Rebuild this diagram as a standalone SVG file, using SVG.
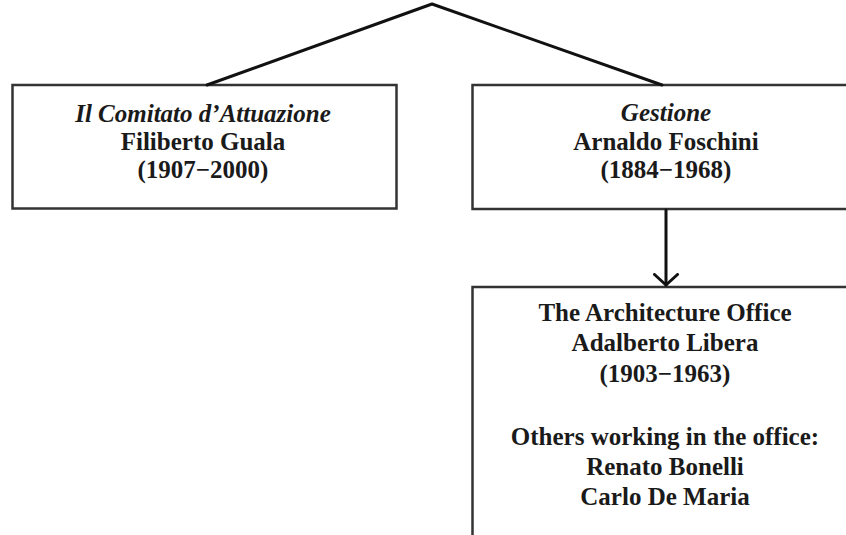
<svg xmlns="http://www.w3.org/2000/svg" width="846" height="535" viewBox="0 0 846 535">
  <style>
    .box { fill: #ffffff; stroke: #333333; stroke-width: 2.5; }
    .conn { fill: none; stroke: #111111; stroke-width: 3; stroke-linecap: round; stroke-linejoin: round; }
    text { font-family: "Liberation Serif", "Times New Roman", serif; font-size: 25px; font-weight: bold; fill: #1a1a1a; text-anchor: middle; }
    .it { font-style: italic; }
  </style>
  <defs>
    <marker id="vhead" viewBox="0 0 14 26" refX="12" refY="13" markerWidth="14" markerHeight="26" markerUnits="userSpaceOnUse" orient="auto">
      <path d="M1.5 1.5 L12 13 L1.5 24.5" fill="none" stroke="#111111" stroke-width="3" stroke-linecap="round" stroke-linejoin="round"/>
    </marker>
  </defs>
  <rect width="846" height="535" fill="#ffffff"/>
  <g id="node-comitato">
    <rect class="box" x="12.5" y="85" width="384" height="123.5"/>
    <text x="203" y="122" class="it">Il Comitato d’Attuazione</text>
    <text x="203" y="150">Filiberto Guala</text>
    <text x="203" y="178">(1907−2000)</text>
  </g>
  <g id="node-gestione">
    <rect class="box" x="472.5" y="85" width="400" height="124"/>
    <text x="666" y="121" class="it">Gestione</text>
    <text x="666" y="150">Arnaldo Foschini</text>
    <text x="666" y="178">(1884−1968)</text>
  </g>
  <g id="node-office">
    <rect class="box" x="472.5" y="287" width="400" height="280"/>
    <text x="665" y="321">The Architecture Office</text>
    <text x="665" y="351">Adalberto Libera</text>
    <text x="665" y="382">(1903−1963)</text>
    <text x="665" y="445">Others working in the office:</text>
    <text x="665" y="475">Renato Bonelli</text>
    <text x="665" y="505">Carlo De Maria</text>
  </g>
  <g id="connectors">
    <polyline class="conn" points="207,85 432,4 662,85"/>
    <line class="conn" x1="666" y1="210" x2="666" y2="285" marker-end="url(#vhead)"/>
  </g>
</svg>
